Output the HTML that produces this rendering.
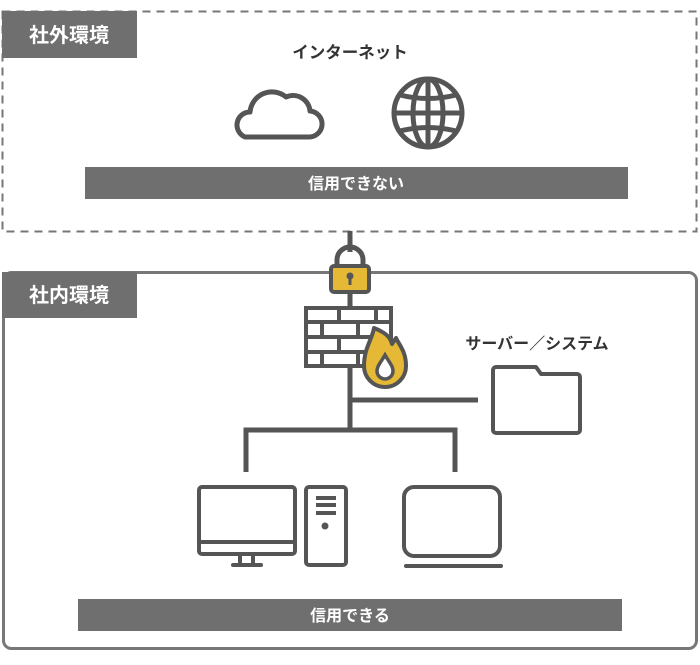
<!DOCTYPE html>
<html><head><meta charset="utf-8"><style>
body{margin:0;background:#fff;width:700px;height:660px;overflow:hidden;font-family:"Liberation Sans","Noto Sans CJK JP",sans-serif}
</style></head><body>
<svg width="700" height="660" viewBox="0 0 700 660" xmlns="http://www.w3.org/2000/svg" font-family="Liberation Sans, Noto Sans CJK JP, sans-serif">
<rect x="2.5" y="11.5" width="694" height="220" fill="none" stroke="#777" stroke-width="2" stroke-dasharray="8,6"/>
<rect x="2" y="11" width="135" height="47" fill="#6f6f6f"/>
<text x="69" y="42" font-size="20" font-weight="bold" fill="#fff" text-anchor="middle">社外環境</text>
<text x="350" y="58" font-size="16.5" font-weight="bold" fill="#333" text-anchor="middle">インターネット</text>
<path d="M245,137 H308 A13,13 0 0 0 310,111 A17,17 0 0 0 286,97 A22,22 0 0 0 250,112 A13,13 0 0 0 245,137 Z" fill="none" stroke="#555" stroke-width="5" stroke-linejoin="round"/>
<g fill="none" stroke="#555" stroke-width="5">
<circle cx="428" cy="113" r="34"/>
<ellipse cx="428" cy="113" rx="15" ry="34"/>
<line x1="428" y1="79" x2="428" y2="147"/>
<line x1="394" y1="113" x2="462" y2="113"/>
<path d="M400,95 Q428,102 456,95"/><path d="M400,131 Q428,124 456,131"/>
</g>
<rect x="85" y="167" width="543" height="32" fill="#6f6f6f"/>
<text x="356" y="189" font-size="16" font-weight="bold" fill="#fff" text-anchor="middle">信用できない</text>
<rect x="3.5" y="272.5" width="693" height="376" rx="8" fill="none" stroke="#777" stroke-width="3"/>
<path d="M2,272 H137 V318 H2 Z" fill="#6f6f6f"/>
<text x="69" y="302" font-size="20" font-weight="bold" fill="#fff" text-anchor="middle">社内環境</text>
<g stroke="#555" stroke-width="5" fill="none">
<line x1="350" y1="231" x2="350" y2="252"/>
<line x1="350" y1="290" x2="350" y2="308"/>
<line x1="350" y1="366" x2="350" y2="430"/>
<line x1="350" y1="400" x2="478" y2="400"/>
<polyline points="246,472 246,430 455,430 455,472"/>
</g>
<path d="M337,266 V260 A13,13 0 0 1 363,260 V266" fill="none" stroke="#555" stroke-width="5"/>
<rect x="331" y="266" width="38" height="26" rx="3" fill="#e5b935" stroke="#555" stroke-width="4"/>
<circle cx="350" cy="276" r="3.5" fill="#555"/><rect x="348.5" y="276" width="3" height="9" fill="#555"/>
<g fill="none" stroke="#555" stroke-width="4">
<rect x="306" y="308" width="85" height="58"/>
<line x1="306" y1="322" x2="391" y2="322"/><line x1="306" y1="337" x2="391" y2="337"/><line x1="306" y1="352" x2="391" y2="352"/>
<line x1="339" y1="308" x2="339" y2="322"/><line x1="376" y1="308" x2="376" y2="322"/>
<line x1="322" y1="322" x2="322" y2="337"/><line x1="358" y1="322" x2="358" y2="337"/>
<line x1="339" y1="337" x2="339" y2="352"/><line x1="376" y1="337" x2="376" y2="352"/>
<line x1="322" y1="352" x2="322" y2="366"/><line x1="358" y1="352" x2="358" y2="366"/>
</g>
<path d="M374,328 C372,340 364,348 364,366 A21,21 0 0 0 406,366 C406,352 400,346 396,338 L392,344 C390,336 384,332 374,328 Z" fill="#e5b935" stroke="#555" stroke-width="4" stroke-linejoin="round"/>
<path d="M385,355 C381,362 377,366 377,371 A8,8 0 0 0 393,371 C393,366 389,362 385,355 Z" fill="#fff" stroke="#555" stroke-width="3.5"/>
<text x="537" y="349" font-size="16" font-weight="bold" fill="#333" text-anchor="middle">サーバー／システム</text>
<path d="M496,367 H536 L541,374 H577 A3,3 0 0 1 580,377 V430 A3,3 0 0 1 577,433 H496 A3,3 0 0 1 493,430 V370 A3,3 0 0 1 496,367 Z" fill="none" stroke="#555" stroke-width="4" stroke-linejoin="round"/>
<g fill="none" stroke="#555" stroke-width="4">
<rect x="199" y="487" width="96" height="67" rx="3"/>
<line x1="199" y1="542" x2="295" y2="542"/>
<line x1="240" y1="554" x2="240" y2="565"/><line x1="253" y1="554" x2="253" y2="565"/>
<line x1="233" y1="565" x2="261" y2="565" stroke-linecap="round"/>
<rect x="306" y="487" width="40" height="78" rx="3"/>
<line x1="316" y1="498" x2="336" y2="498"/><line x1="316" y1="505" x2="336" y2="505"/><line x1="316" y1="513" x2="336" y2="513"/>
<rect x="404" y="487" width="96" height="69" rx="10"/>
<line x1="406" y1="566" x2="501" y2="566" stroke-linecap="round"/>
</g>
<circle cx="325" cy="526" r="3.5" fill="#555"/>
<rect x="78" y="599" width="544" height="32" fill="#6f6f6f"/>
<text x="350" y="621" font-size="16" font-weight="bold" fill="#fff" text-anchor="middle">信用できる</text>
</svg>
</body></html>
